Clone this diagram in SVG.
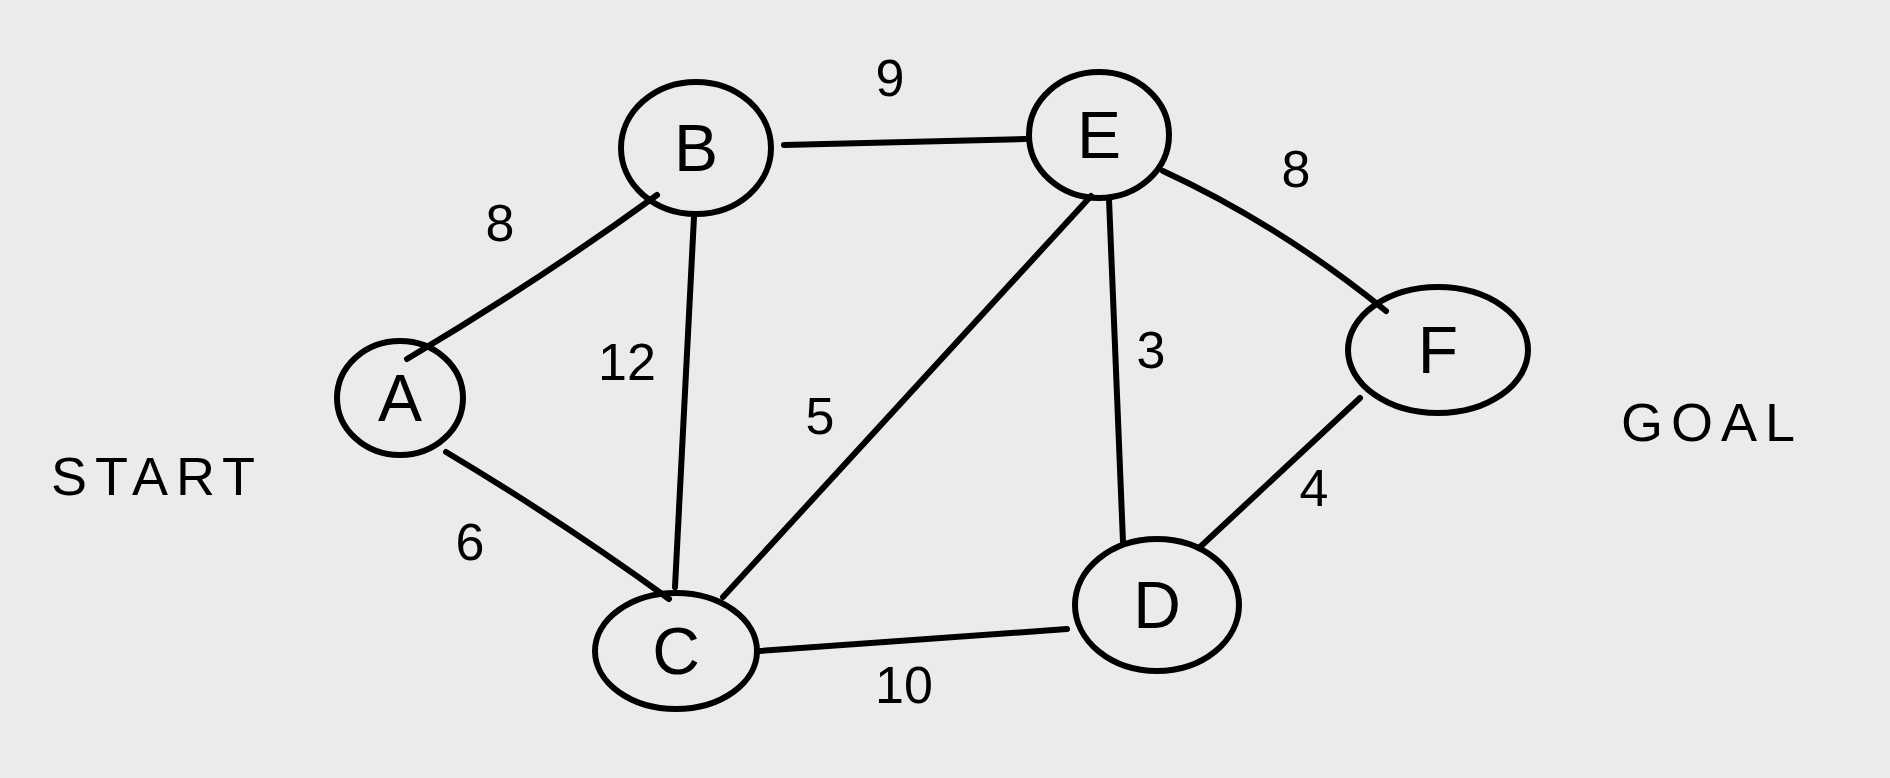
<svg xmlns="http://www.w3.org/2000/svg" width="1890" height="778" viewBox="0 0 1890 778">
<style>
.n{fill:none;stroke:#000;stroke-width:6;stroke-linecap:round}
.e{fill:none;stroke:#000;stroke-width:6;stroke-linecap:round}
.l{font-family:"Liberation Sans",sans-serif;font-size:66px;fill:#000;text-anchor:middle;dominant-baseline:central}
.w{font-family:"Liberation Sans",sans-serif;font-size:52px;fill:#000;text-anchor:middle;dominant-baseline:central}
.t{font-family:"Liberation Sans",sans-serif;font-size:54px;fill:#000;text-anchor:middle;dominant-baseline:central;letter-spacing:8px}
</style>
<rect width="1890" height="778" fill="#ebebeb"/>
<g id="connectors">
<path class="e" d="M407 359 Q540 280 657 195"/>
<path class="e" d="M446 452 Q560 520 669 599"/>
<path class="e" d="M694 217 L675 587"/>
<path class="e" d="M784 145 L1025 139"/>
<path class="e" d="M1091 196 L723 597"/>
<path class="e" d="M1109 199 L1123 542"/>
<path class="e" d="M1163 171 Q1280 225 1386 311"/>
<path class="e" d="M1360 398 L1199 548"/>
<path class="e" d="M759 651 L1067 629"/>
<text class="w" x="500" y="223">8</text>
<text class="w" x="470" y="542">6</text>
<text class="w" x="627" y="362">12</text>
<text class="w" x="890" y="78">9</text>
<text class="w" x="820" y="416">5</text>
<text class="w" x="1151" y="350">3</text>
<text class="w" x="1296" y="169">8</text>
<text class="w" x="1314" y="488">4</text>
<text class="w" x="904" y="685">10</text>
</g>
<g id="A"><ellipse class="n" cx="400" cy="398" rx="63" ry="57"/><text class="l" x="400" y="398">A</text></g>
<g id="B"><ellipse class="n" cx="696" cy="148" rx="75" ry="66"/><text class="l" x="696" y="148">B</text></g>
<g id="E"><ellipse class="n" cx="1099" cy="135" rx="70" ry="63"/><text class="l" x="1099" y="135">E</text></g>
<g id="F"><ellipse class="n" cx="1438" cy="350" rx="90" ry="63"/><text class="l" x="1438" y="350">F</text></g>
<g id="C"><ellipse class="n" cx="676" cy="651" rx="81" ry="58"/><text class="l" x="676" y="651">C</text></g>
<g id="D"><ellipse class="n" cx="1157" cy="605" rx="82" ry="66"/><text class="l" x="1157" y="605">D</text></g>
<g id="start"><text class="t" x="157" y="476">START</text></g>
<g id="goal"><text class="t" x="1712" y="422">GOAL</text></g>
</svg>
